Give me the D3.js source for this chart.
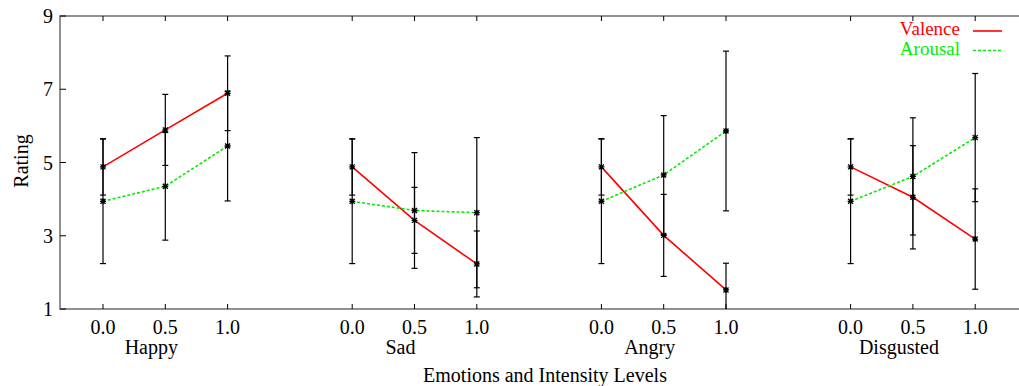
<!DOCTYPE html>
<html>
<head>
<meta charset="utf-8">
<script src="https://cdn.jsdelivr.net/npm/d3@7"></script>
<style>
  body { margin: 0; background: #fff; }
  svg { display: block; }
  svg text { font-family: "Liberation Serif", "Times New Roman", Times, "DejaVu Serif", serif; }
</style>
</head>
<body>
<div class="chart"></div>
<script>
// emotions and intensity levels
const emotions = ["Happy", "Sad", "Angry", "Disgusted"];
const levels = ["0.0", "0.5", "1.0"];
const yTicks = [1, 3, 5, 7, 9];

// mean ratings per emotion, one value per intensity level
const valence = [[4.88, 5.89, 6.89], [4.88, 3.42, 2.23], [4.88, 3.01, 1.52], [4.88, 4.05, 2.91]];
const valenceErr = [[0.77, 0.97, 1.02], [0.77, 0.90, 0.90], [0.77, 1.12, 0.73], [0.77, 1.41, 1.37]];
const arousal = [[3.94, 4.35, 5.45], [3.94, 3.69, 3.63], [3.94, 4.66, 5.86], [3.94, 4.62, 5.68]];
const arousalErr = [[1.70, 1.47, 1.50], [1.70, 1.58, 2.05], [1.70, 1.62, 2.18], [1.70, 1.60, 1.75]];

document.addEventListener("DOMContentLoaded", () => {
    const svgW = 1019;
    const svgH = 386;
    const left = 60, top = 16, bottom = 309, right = 1030;
    const font = "'Liberation Serif', 'Times New Roman', Times, serif";

    // each emotion takes 3 slots, with one empty slot between groups
    const pos = (e, l) => e * 4 + l + 1;

    const xScale = d3.scaleLinear().domain([1, 15]).range([103, 975.2]);
    const yScale = d3.scaleLinear().domain([1, 9]).range([bottom, top]);

    const svg = d3.select(".chart").append("svg")
        .attr("width", svgW)
        .attr("height", svgH)
        .attr("font-family", font);

    svg.append("clipPath").attr("id", "plot-clip")
        .append("rect")
        .attr("x", left).attr("y", top)
        .attr("width", right - left).attr("height", bottom - top);

    const frameColor = "#6e6e6e";

    // frame
    svg.append("path")
        .attr("d", `M${right},${top}H${left}V${bottom}H${right}`)
        .attr("fill", "none")
        .attr("stroke", frameColor)
        .attr("stroke-width", 1.5);

    // y ticks and labels
    const yAxis = svg.append("g").attr("id", "y-axis");
    yAxis.selectAll("line").data(yTicks).enter().append("line")
        .attr("x1", left).attr("x2", left + 6)
        .attr("y1", d => yScale(d)).attr("y2", d => yScale(d))
        .attr("stroke", "#000");
    yAxis.selectAll("text").data(yTicks).enter().append("text")
        .attr("x", 53)
        .attr("y", d => yScale(d))
        .attr("dy", "0.35em")
        .attr("text-anchor", "end")
        .attr("font-family", font)
        .style("font-size", "20px")
        .text(d => d);

    // x ticks (bottom and mirrored top) and labels
    const xTickData = [];
    emotions.forEach((e, i) => levels.forEach((l, j) => xTickData.push({ p: pos(i, j), label: l })));

    const xAxis = svg.append("g").attr("id", "x-axis");
    xAxis.selectAll("line.b").data(xTickData).enter().append("line")
        .attr("class", "b")
        .attr("x1", d => xScale(d.p)).attr("x2", d => xScale(d.p))
        .attr("y1", bottom).attr("y2", bottom - 5)
        .attr("stroke", "#000");
    xAxis.selectAll("line.t").data(xTickData).enter().append("line")
        .attr("class", "t")
        .attr("x1", d => xScale(d.p)).attr("x2", d => xScale(d.p))
        .attr("y1", top).attr("y2", top + 5)
        .attr("stroke", "#000");
    xAxis.selectAll("text.lvl").data(xTickData).enter().append("text")
        .attr("class", "lvl")
        .attr("x", d => xScale(d.p))
        .attr("y", 334)
        .attr("text-anchor", "middle")
        .attr("font-family", font)
        .style("font-size", "20px")
        .text(d => d.label);
    xAxis.selectAll("text.emo").data(emotions).enter().append("text")
        .attr("class", "emo")
        .attr("x", (d, i) => xScale(pos(i, 1)) - 14)
        .attr("y", 354)
        .attr("text-anchor", "middle")
        .attr("font-family", font)
        .style("font-size", "20px")
        .text(d => d);

    svg.append("text")
        .attr("x", 545)
        .attr("y", 382)
        .attr("text-anchor", "middle")
        .attr("font-family", font)
        .style("font-size", "20px")
        .text("Emotions and Intensity Levels");

    svg.append("text")
        .attr("transform", "translate(28,161) rotate(-90)")
        .attr("text-anchor", "middle")
        .attr("font-family", font)
        .style("font-size", "20px")
        .text("Rating");

    const plot = svg.append("g").attr("clip-path", "url(#plot-clip)");

    const series = [
        { name: "Valence", values: valence, err: valenceErr, color: "#ff0000", dash: null },
        { name: "Arousal", values: arousal, err: arousalErr, color: "#00ee00", dash: "3,2" }
    ];

    const line = d3.line().x(d => xScale(d.p)).y(d => yScale(d.v));

    series.forEach(s => {
        const g = plot.append("g");
        s.values.forEach((vals, i) => {
            const pts = vals.map((v, j) => ({ p: pos(i, j), v: v, e: s.err[i][j] }));

            // error bars
            const eb = g.selectAll(null).data(pts).enter().append("g");
            eb.append("line")
                .attr("x1", d => xScale(d.p)).attr("x2", d => xScale(d.p))
                .attr("y1", d => yScale(d.v - d.e)).attr("y2", d => yScale(d.v + d.e))
                .attr("stroke", "#000").attr("stroke-width", 1.2);
            [-1, 1].forEach(sign => {
                eb.append("line")
                    .attr("x1", d => xScale(d.p) - 3).attr("x2", d => xScale(d.p) + 3)
                    .attr("y1", d => yScale(d.v + sign * d.e)).attr("y2", d => yScale(d.v + sign * d.e))
                    .attr("stroke", "#000").attr("stroke-width", 1.2);
            });

            g.append("path")
                .datum(pts)
                .attr("d", line)
                .attr("fill", "none")
                .attr("stroke", s.color)
                .attr("stroke-width", 1.6)
                .attr("stroke-dasharray", s.dash);

            // point markers
            g.selectAll(null).data(pts).enter().append("path")
                .attr("transform", d => `translate(${xScale(d.p)},${yScale(d.v)})`)
                .attr("d", "M-2.5,-2.5L2.5,2.5M-2.5,2.5L2.5,-2.5M0,-3V3M-3,0H3")
                .attr("stroke", "#000")
                .attr("stroke-width", 1.3)
                .attr("fill", "none");
        });
    });

    // legend
    const legend = svg.append("g");
    series.forEach((s, i) => {
        const y = 35 + i * 19.5;
        legend.append("text")
            .attr("x", 960).attr("y", y)
            .attr("text-anchor", "end")
            .attr("font-family", font)
            .style("font-size", "19px")
            .style("fill", s.color)
            .text(s.name);
        legend.append("line")
            .attr("x1", 973).attr("x2", 1002)
            .attr("y1", y - 4).attr("y2", y - 4)
            .attr("stroke", s.color)
            .attr("stroke-width", 1.6)
            .attr("stroke-dasharray", s.dash);
    });
});
</script>
</body>
</html>
